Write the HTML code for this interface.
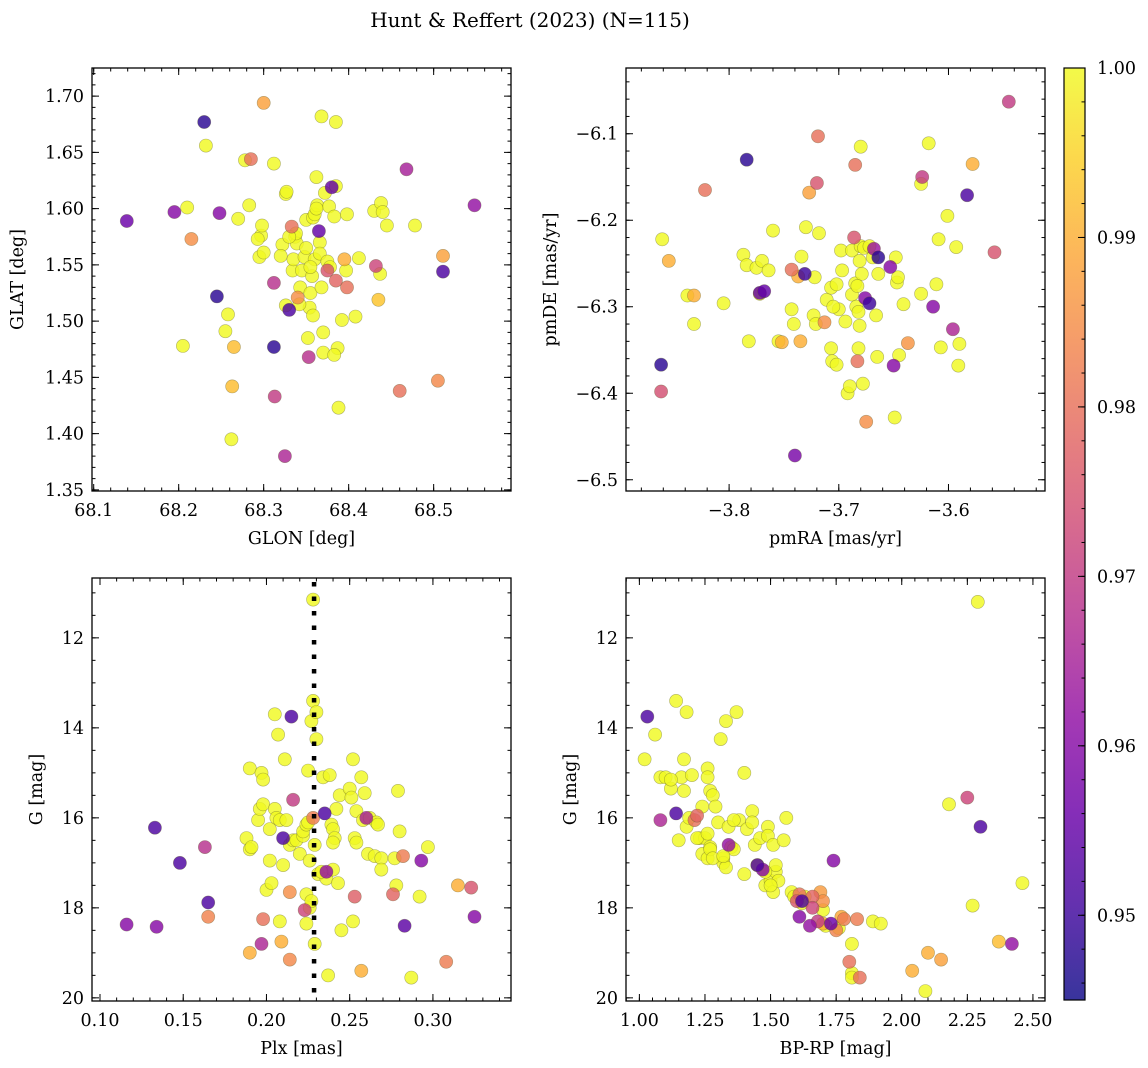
<!DOCTYPE html>
<html><head><meta charset="utf-8"><style>
body{margin:0;background:#fff;}
svg{display:block;font-family:"DejaVu Serif","Liberation Serif",serif;}
</style></head><body>
<svg id="fig" width="1148" height="1068" viewBox="0 0 1148 1068" xmlns="http://www.w3.org/2000/svg">
<defs>
<linearGradient id="cbgrad" x1="0" y1="1" x2="0" y2="0"></linearGradient>
</defs>
<text x="530" y="27" text-anchor="middle" font-size="20">Hunt &amp; Reffert (2023) (N=115)</text>
</svg>
<script>
// ---------- Panel 1 data: GLON / GLAT ----------
const glon=[68.139,68.195,68.21,68.215,68.205,68.232,68.23,68.248,68.245,68.258,68.255,68.265,68.263,68.262,68.27,68.278,68.285,68.283,68.30,68.297,68.298,68.295,68.293,68.30,68.312,68.312,68.312,68.313,68.325,68.322,68.326,68.327,68.326,68.330,68.333,68.334,68.335,68.337,68.339,68.340,68.345,68.343,68.348,68.350,68.350,68.352,68.353,68.354,68.357,68.355,68.358,68.360,68.362,68.363,68.360,68.365,68.366,68.366,68.368,68.368,68.370,68.370,68.372,68.375,68.375,68.377,68.378,68.380,68.383,68.385,68.385,68.385,68.387,68.383,68.388,68.392,68.395,68.397,68.398,68.398,68.412,68.408,68.430,68.432,68.435,68.437,68.438,68.440,68.445,68.460,68.468,68.478,68.505,68.511,68.511,68.548,68.338,68.330,68.320,68.358,68.342,68.355,68.362];
const glat=[1.589,1.597,1.601,1.573,1.478,1.656,1.677,1.596,1.522,1.506,1.491,1.477,1.442,1.395,1.591,1.643,1.644,1.603,1.694,1.576,1.585,1.557,1.573,1.561,1.640,1.534,1.477,1.433,1.380,1.568,1.613,1.615,1.514,1.510,1.584,1.545,1.555,1.575,1.569,1.521,1.545,1.530,1.557,1.590,1.565,1.485,1.468,1.512,1.540,1.525,1.592,1.595,1.628,1.603,1.555,1.580,1.570,1.560,1.530,1.682,1.472,1.490,1.614,1.545,1.553,1.602,1.548,1.619,1.593,1.620,1.677,1.536,1.476,1.470,1.423,1.501,1.555,1.545,1.530,1.595,1.556,1.504,1.598,1.549,1.519,1.542,1.605,1.597,1.585,1.438,1.635,1.585,1.447,1.558,1.544,1.603,1.578,1.575,1.558,1.505,1.515,1.548,1.600];
const prob1=[.956,.960,1,.985,1,1,.948,.960,.948,1,1,.992,.992,1,1,1,.98,1,.988,1,1,1,1,1,1,.968,.948,.97,.966,1,1,1,1,.952,.98,1,1,1,1,.985,1,1,1,1,1,1,.968,1,1,1,1,1,1,1,1,.955,1,1,1,1,1,1,1,.975,1,1,1,.955,1,1,1,.978,1,1,1,1,.99,1,.98,1,1,1,1,.972,.993,1,1,1,1,.98,.965,1,.984,.988,.952,.962,1,1,1,1,1,1,1];

// ---------- Panel 2 data: pmRA / pmDE ----------
const pmra=[-3.861,-3.855,-3.862,-3.862,-3.838,-3.832,-3.832,-3.822,-3.805,-3.784,-3.787,-3.782,-3.784,-3.775,-3.770,-3.772,-3.768,-3.772,-3.764,-3.760,-3.755,-3.752,-3.743,-3.741,-3.743,-3.740,-3.737,-3.735,-3.734,-3.730,-3.731,-3.727,-3.723,-3.721,-3.719,-3.720,-3.718,-3.722,-3.711,-3.707,-3.707,-3.702,-3.706,-3.702,-3.700,-3.698,-3.697,-3.692,-3.694,-3.688,-3.690,-3.688,-3.685,-3.684,-3.686,-3.683,-3.685,-3.681,-3.680,-3.682,-3.681,-3.682,-3.679,-3.683,-3.677,-3.676,-3.678,-3.680,-3.675,-3.672,-3.669,-3.672,-3.666,-3.665,-3.668,-3.664,-3.664,-3.653,-3.648,-3.649,-3.650,-3.647,-3.645,-3.646,-3.641,-3.637,-3.625,-3.625,-3.624,-3.618,-3.614,-3.611,-3.609,-3.607,-3.601,-3.596,-3.593,-3.591,-3.590,-3.583,-3.578,-3.558,-3.545,-3.705,-3.713];
const pmde=[-6.222,-6.247,-6.367,-6.398,-6.287,-6.287,-6.320,-6.165,-6.296,-6.130,-6.240,-6.340,-6.252,-6.255,-6.247,-6.284,-6.282,-6.285,-6.258,-6.212,-6.340,-6.341,-6.303,-6.320,-6.257,-6.472,-6.265,-6.340,-6.242,-6.208,-6.262,-6.168,-6.310,-6.320,-6.103,-6.157,-6.215,-6.266,-6.292,-6.348,-6.278,-6.274,-6.363,-6.367,-6.303,-6.235,-6.258,-6.400,-6.317,-6.286,-6.392,-6.235,-6.273,-6.300,-6.220,-6.363,-6.136,-6.247,-6.230,-6.306,-6.322,-6.348,-6.262,-6.276,-6.232,-6.290,-6.389,-6.115,-6.433,-6.296,-6.243,-6.230,-6.310,-6.358,-6.233,-6.243,-6.262,-6.254,-6.243,-6.428,-6.368,-6.272,-6.356,-6.266,-6.297,-6.342,-6.158,-6.285,-6.150,-6.111,-6.300,-6.274,-6.222,-6.347,-6.195,-6.326,-6.231,-6.368,-6.343,-6.171,-6.135,-6.237,-6.063,-6.300,-6.318];
const prob2=[1,.99,.948,.974,1,.99,1,.98,1,.948,1,1,1,1,1,.955,.955,1,1,1,1,.99,1,1,.98,.958,.99,.99,1,1,.95,.988,1,1,.98,.975,1,1,1,1,1,1,1,1,1,1,1,1,1,1,1,1,1,1,.975,.98,.98,1,1,1,1,1,1,1,1,.96,1,1,.985,.95,1,1,1,1,.963,.948,1,.96,1,1,.96,1,1,1,1,.986,1,1,.97,1,.96,1,1,1,1,.966,1,1,1,.952,.99,.975,.97,1,.985];

// ---------- Panel 3 data: Plx / G ----------
const plx=[0.116,0.134,0.133,0.148,0.163,0.165,0.165,0.188,0.190,0.190,0.191,0.190,0.195,0.196,0.197,0.198,0.198,0.198,0.197,0.200,0.202,0.203,0.202,0.205,0.205,0.206,0.207,0.208,0.208,0.209,0.214,0.210,0.212,0.211,0.214,0.215,0.214,0.216,0.216,0.218,0.220,0.222,0.222,0.223,0.224,0.224,0.225,0.224,0.225,0.226,0.226,0.227,0.228,0.228,0.228,0.229,0.229,0.230,0.230,0.231,0.235,0.234,0.236,0.236,0.237,0.239,0.238,0.240,0.240,0.241,0.242,0.243,0.244,0.245,0.250,0.251,0.252,0.253,0.254,0.252,0.253,0.254,0.257,0.257,0.258,0.259,0.261,0.262,0.265,0.266,0.267,0.269,0.269,0.276,0.277,0.278,0.279,0.280,0.283,0.282,0.287,0.292,0.293,0.297,0.308,0.315,0.323,0.325,0.260,0.240,0.233,0.227,0.210];
const gmag1=[18.37,18.42,16.22,17.0,16.65,17.88,18.2,16.45,16.7,14.9,16.65,19.0,16.05,15.8,15.0,15.15,15.7,18.25,18.8,17.6,16.25,17.45,16.95,13.7,15.8,16.0,14.15,16.05,18.3,18.75,17.65,16.45,16.05,14.7,16.6,13.75,19.15,16.5,15.6,16.5,16.8,16.4,16.3,18.05,16.15,17.7,14.95,18.35,16.1,16.95,18.0,13.85,11.15,13.4,16.0,16.6,18.8,13.65,14.25,17.25,15.9,15.1,17.35,17.2,19.5,16.15,15.05,16.25,17.15,16.45,15.8,17.45,15.5,18.5,15.35,15.55,14.7,16.45,16.55,18.3,17.75,15.85,15.1,19.4,16.05,15.45,16.8,16.0,16.85,16.1,16.15,16.9,17.15,17.7,16.9,17.5,15.4,16.3,18.4,16.85,19.55,17.75,16.95,16.65,19.2,17.5,17.55,18.2,16.0,16.55,17.2,17.85,17.05];
const prob3=[.96,.96,.952,.952,.968,.952,.983,1,1,1,1,.99,1,1,1,1,1,.98,.966,1,1,1,1,1,1,1,1,1,1,.99,.985,.952,1,1,1,.952,.984,1,.97,1,1,1,1,.972,1,1,1,1,1,1,1,1,1,1,.982,1,1,1,1,1,.952,1,1,.962,1,1,1,1,1,1,1,1,1,1,1,1,1,1,1,1,.977,1,1,.99,1,1,1,1,1,1,1,1,1,.978,1,1,1,1,.954,.982,1,1,.96,1,.982,.99,.975,.96,.965,1,1,1,1];

// ---------- Panel 4 data: BP-RP / G ----------
const bprp=[1.02,1.03,1.06,1.08,1.08,1.10,1.12,1.14,1.14,1.15,1.16,1.17,1.18,1.17,1.20,1.19,1.21,1.18,1.23,1.24,1.24,1.25,1.26,1.26,1.26,1.27,1.27,1.27,1.28,1.29,1.31,1.32,1.32,1.33,1.33,1.34,1.35,1.36,1.37,1.38,1.40,1.40,1.41,1.43,1.43,1.44,1.45,1.46,1.47,1.48,1.49,1.49,1.50,1.51,1.51,1.52,1.53,1.55,1.56,1.58,1.59,1.61,1.61,1.62,1.63,1.65,1.66,1.66,1.68,1.69,1.70,1.71,1.74,1.73,1.70,1.75,1.77,1.78,1.80,1.81,1.81,1.81,1.83,1.84,1.89,1.92,2.04,2.09,2.10,2.15,2.18,2.25,2.27,2.29,2.30,2.37,2.42,2.46,1.22,1.30,1.34,1.45,1.50,1.60,1.76,1.28,1.22,1.36,1.12,1.52,1.32,1.48,1.62,1.70,1.26];
const gmag2=[14.7,13.75,14.15,16.05,15.1,15.1,15.35,15.9,13.4,16.5,15.1,14.7,16.2,15.4,15.05,16.0,16.05,13.65,16.45,15.75,16.8,16.45,16.9,14.9,15.1,15.4,16.65,16.7,15.5,15.75,14.25,16.9,17.0,17.1,13.85,16.6,16.65,16.7,13.65,16.05,17.25,15.0,16.25,15.85,16.1,16.6,17.05,16.45,17.15,17.5,16.2,16.4,17.4,16.6,17.65,17.2,17.4,16.5,16.0,17.65,17.75,17.7,18.2,17.85,17.75,18.4,18.0,17.75,18.3,17.65,18.35,18.4,16.95,18.35,17.85,18.5,18.2,18.25,19.2,19.45,19.55,18.8,18.25,19.55,18.3,18.35,19.4,19.85,19.0,19.15,15.7,15.55,17.95,11.2,16.2,18.75,18.8,17.45,15.95,16.1,16.2,17.05,17.5,17.85,18.45,16.9,16.45,16.05,15.15,17.05,16.85,17.2,17.9,18.05,16.35];
const prob4=[1,.952,1,.966,1,1,1,.952,1,1,1,1,1,1,1,1,.98,1,1,1,1,1,1,1,1,1,1,1,1,1,1,1,1,1,1,.962,1,1,1,1,1,1,1,1,1,1,.952,1,.96,1,1,1,1,1,1,1,1,1,1,1,1,.98,.96,.952,1,.962,.972,.978,.97,.987,.99,1,.96,.956,.985,.983,.989,.982,.98,1,1,1,.982,.98,1,1,.99,1,.99,.988,1,.972,1,1,.952,.992,.962,1,.978,1,1,1,1,.975,1,1,1,1,1,1,1,1,1,1,1];

// ---------- Ticks ----------
const p1xTicks=[68.1,68.2,68.3,68.4,68.5];
const p1yTicks=[1.35,1.40,1.45,1.50,1.55,1.60,1.65,1.70];
const p2xTicks=[-3.8,-3.7,-3.6];
const p2yTicks=[-6.5,-6.4,-6.3,-6.2,-6.1];
const p3xTicks=[0.10,0.15,0.20,0.25,0.30];
const p4xTicks=[1.00,1.25,1.50,1.75,2.00,2.25,2.50];
const gTicks=[12,14,16,18,20];
const cbTicks=[0.95,0.96,0.97,0.98,0.99,1.00];
const plxLine=[0.2286];

const NS="http://www.w3.org/2000/svg";
const svg=document.getElementById('fig');
function mk(tag,attrs,parent){const e=document.createElementNS(NS,tag);for(const k in attrs)e.setAttribute(k,attrs[k]);(parent||svg).appendChild(e);return e;}

const plasma=[[13,8,135],[65,4,157],[106,0,168],[143,13,164],[177,42,144],[204,71,120],[225,100,98],[242,132,75],[252,166,54],[252,206,37],[240,249,33]];
const VMIN=0.945,VMAX=1.0;
function cmap(t){t=Math.max(0,Math.min(1,t));const s=t*10;const i=Math.min(9,Math.floor(s));const f=s-i;const a=plasma[i],b=plasma[i+1];
  return 'rgb('+[0,1,2].map(k=>Math.round(a[k]+(b[k]-a[k])*f)).join(',')+')';}
function pcolor(p){return cmap((p-VMIN)/(VMAX-VMIN));}

function fmt(v,d){return (v<0?'\u2212':'')+Math.abs(v).toFixed(d);}

function panel(cfg){
  const {name,L,R,T,B,xmin,xmax,ymin,ymax,yInv,xs,ys,ps,xt,yt,xd,yd,xminor,yminor,xlabel,ylabel,ylabX}=cfg;
  const sx=v=>L+(v-xmin)/(xmax-xmin)*(R-L);
  const sy=yInv?(v=>T+(v-ymin)/(ymax-ymin)*(B-T)):(v=>B-(v-ymin)/(ymax-ymin)*(B-T));
  const g=mk('g',{});
  
  
  const clipId='clip-'+name;
  const cp=mk('clipPath',{id:clipId},g);mk('rect',{x:L,y:T,width:R-L,height:B-T},cp);
  const pts=mk('g',{'clip-path':'url(#'+clipId+')'},g);
  
  
  const order=xs.map((_,i)=>i).sort((a,b)=>ps[b]-ps[a]);
  order.forEach(i=>{
    const c=mk('circle',{cx:sx(xs[i]).toFixed(1),cy:sy(ys[i]).toFixed(1),r:6.6,fill:pcolor(ps[i]),'fill-opacity':0.82,stroke:'#5a5a2a','stroke-opacity':0.45,'stroke-width':0.6},pts);
    
    
  });
  if(cfg.vline){cfg.vline.forEach(v=>{
    const ln=mk('line',{x1:sx(v),x2:sx(v),y1:T+4,y2:B,stroke:'#000','stroke-width':4.5,'stroke-dasharray':'4.5 10'},g);
    
    
  });}
  const fr=mk('rect',{x:L,y:T,width:R-L,height:B-T,fill:'none',stroke:'#000','stroke-width':1.3},g);
  
  
  const tk=mk('g',{stroke:'#000','stroke-width':1},g);
  
  
  for(let v=Math.ceil(xmin/xminor-1e-6)*xminor;v<=xmax+1e-9;v+=xminor){const x=sx(v);
    mk('line',{x1:x,x2:x,y1:B,y2:B-3.5},tk);mk('line',{x1:x,x2:x,y1:T,y2:T+3.5},tk);}
  for(let v=Math.ceil(Math.min(ymin,ymax)/yminor-1e-6)*yminor;v<=Math.max(ymin,ymax)+1e-9;v+=yminor){const y=sy(v);
    mk('line',{x1:L,x2:L+3.5,y1:y,y2:y},tk);mk('line',{x1:R,x2:R-3.5,y1:y,y2:y},tk);}
  xt.forEach(v=>{const x=sx(v);
    mk('line',{x1:x,x2:x,y1:B,y2:B-7},tk);mk('line',{x1:x,x2:x,y1:T,y2:T+7},tk);
    const t=mk('text',{x:x,y:B+25,'text-anchor':'middle','font-size':17.5},g);t.textContent=fmt(v,xd);
    
    });
  yt.forEach(v=>{const y=sy(v);
    mk('line',{x1:L,x2:L+7,y1:y,y2:y},tk);mk('line',{x1:R,x2:R-7,y1:y,y2:y},tk);
    const t=mk('text',{x:L-8,y:y+6,'text-anchor':'end','font-size':17.5},g);t.textContent=fmt(v,yd);
    
    });
  const xl=mk('text',{x:(L+R)/2,y:B+53,'text-anchor':'middle','font-size':17.5},g);xl.textContent=xlabel;
  
  
  const ycy=(T+B)/2;
  const yl=mk('text',{x:ylabX,y:ycy,'text-anchor':'middle','font-size':17.5,transform:'rotate(-90 '+ylabX+' '+ycy+')'},g);yl.textContent=ylabel;
  
  
}

panel({name:'glon-glat',L:92,R:511,T:68,B:491,xmin:68.098,xmax:68.591,ymin:1.349,ymax:1.725,xs:glon,ys:glat,ps:prob1,xt:p1xTicks,yt:p1yTicks,xd:1,yd:2,xminor:0.02,yminor:0.01,xlabel:'GLON [deg]',ylabel:'GLAT [deg]',ylabX:23});
panel({name:'pmra-pmde',L:626,R:1045,T:68,B:491,xmin:-3.894,xmax:-3.512,ymin:-6.513,ymax:-6.024,xs:pmra,ys:pmde,ps:prob2,xt:p2xTicks,yt:p2yTicks,xd:1,yd:1,xminor:0.02,yminor:0.02,xlabel:'pmRA [mas/yr]',ylabel:'pmDE [mas/yr]',ylabX:556});
panel({name:'plx-g',L:92,R:511,T:578,B:1001,xmin:0.0952,xmax:0.3469,ymin:10.67,ymax:20.07,yInv:true,xs:plx,ys:gmag1,ps:prob3,xt:p3xTicks,yt:gTicks,xd:2,yd:0,xminor:0.01,yminor:0.5,xlabel:'Plx [mas]',ylabel:'G [mag]',ylabX:42,vline:plxLine});
panel({name:'bprp-g',L:626,R:1045,T:578,B:1001,xmin:0.949,xmax:2.546,ymin:10.67,ymax:20.07,yInv:true,xs:bprp,ys:gmag2,ps:prob4,xt:p4xTicks,yt:gTicks,xd:2,yd:0,xminor:0.05,yminor:0.5,xlabel:'BP-RP [mag]',ylabel:'G [mag]',ylabX:576});

// ---------- Colorbar ----------
const grad=document.getElementById('cbgrad');
for(let i=0;i<=10;i++){mk('stop',{offset:(i/10),'stop-color':cmap(i/10)},grad);}
const cbL=1064,cbR=1085,cbT=68,cbB=1000;
const cb=mk('g',{});


mk('rect',{x:cbL,y:cbT,width:cbR-cbL,height:cbB-cbT,fill:'url(#cbgrad)','fill-opacity':0.82},cb);
mk('rect',{x:cbL,y:cbT,width:cbR-cbL,height:cbB-cbT,fill:'none',stroke:'#000','stroke-width':1.2},cb);
const cy=v=>cbB-(v-VMIN)/(VMAX-VMIN)*(cbB-cbT);
for(let v=0.946;v<=1.0001;v+=0.002){const y=cy(v);mk('line',{x1:cbR,x2:cbR-3.5,y1:y,y2:y,stroke:'#000'},cb);}
cbTicks.forEach(v=>{const y=cy(v);mk('line',{x1:cbR,x2:cbR-7,y1:y,y2:y,stroke:'#000'},cb);
  const t=mk('text',{x:cbR+12,y:y+6,'font-size':17.5},cb);t.textContent=v.toFixed(2);
  
  });
</script>
</body></html>
